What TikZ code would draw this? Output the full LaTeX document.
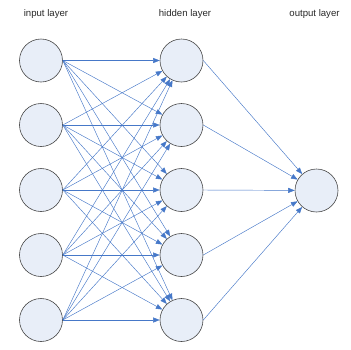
\documentclass[tikz,border=0pt]{standalone}
\usepackage{fontspec}
\setmainfont{Liberation Sans}
\usetikzlibrary{arrows.meta}
\definecolor{nodefill}{RGB}{232,238,248}
\definecolor{nodeedge}{RGB}{70,70,70}
\definecolor{linkblue}{RGB}{70,120,200}
\definecolor{labelgray}{RGB}{40,40,40}
\tikzset{
  neuron/.style={circle,draw=nodeedge,fill=nodefill,line width=0.6pt,minimum size=43pt,inner sep=0pt},
  link/.style={draw=linkblue,line width=0.45pt,-{Triangle[length=6.5pt,width=5pt]}},
  layerlabel/.style={text=labelgray,font=\fontsize{9.6}{11}\selectfont,inner sep=0pt}
}
\begin{document}
\begin{tikzpicture}[x=1pt,y=-1pt]
\useasboundingbox (0,0) rectangle (351,349);
\node[layerlabel] (lin) at (46,14) {input layer};
\node[layerlabel] (lhid) at (185,14) {hidden layer};
\node[layerlabel] (lout) at (314.5,14) {output layer};
\foreach \k/\y in {1/60.5,2/125,3/190,4/255,5/320}{
  \node[neuron] (i\k) at (41,\y) {};
  \node[neuron] (h\k) at (181.5,\y) {};
}
\node[neuron] (o) at (316.5,190.5) {};
\foreach \a in {1,...,5}{
  \foreach \b in {1,...,5}{
    \draw[link] (i\a.east) -- (h\b);
  }
  \draw[link] (h\a.east) -- (o);
}
\end{tikzpicture}
\end{document}
